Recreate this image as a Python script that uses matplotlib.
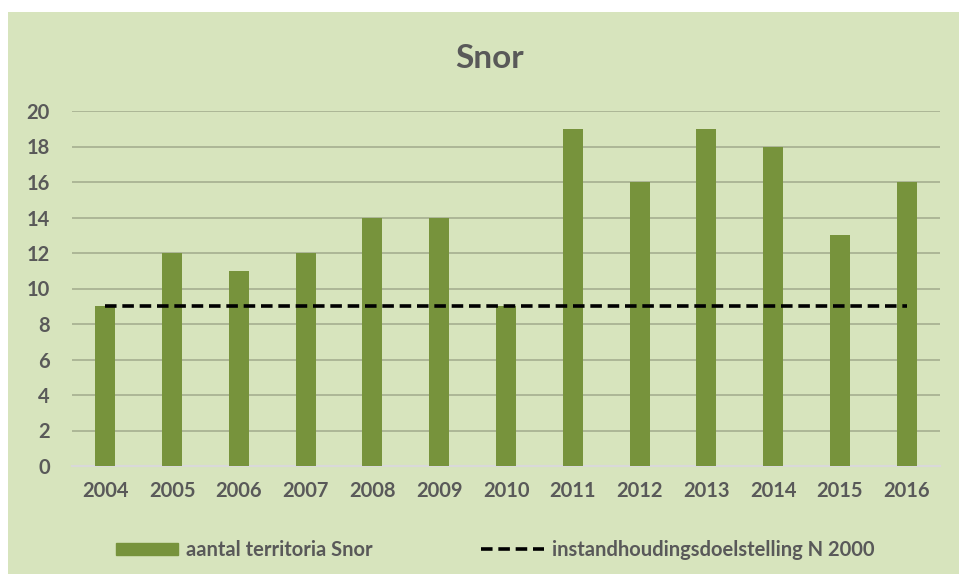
import matplotlib.pyplot as plt
from matplotlib.patches import Rectangle
from matplotlib.lines import Line2D

years = ["2004", "2005", "2006", "2007", "2008", "2009", "2010",
         "2011", "2012", "2013", "2014", "2015", "2016"]
territoria = [9, 12, 11, 12, 14, 14, 9, 19, 16, 19, 18, 13, 16]
doelstelling = [9] * len(years)
yticks = [0, 2, 4, 6, 8, 10, 12, 14, 16, 18, 20]

bg = "#d7e4bd"
bar_color = "#77933c"
text_color = "#595959"
font = ["Lato", "DejaVu Sans"]

W, H = 959, 574
fig = plt.figure(figsize=(W / 100, H / 100), dpi=100, facecolor="white")
fig.patches.append(Rectangle((8 / W, 0), 1 - 8 / W, 1 - 12 / H,
                             transform=fig.transFigure, facecolor=bg,
                             edgecolor="none", zorder=-10))

ax = fig.add_axes([72 / W, 1 - 466 / H, (940 - 72) / W, (466 - 111) / H])
ax.set_facecolor(bg)
x = list(range(len(years)))
ax.bar(x, territoria, width=0.3, color=bar_color, zorder=3,
       label="aantal territoria Snor")
ax.plot(x, doelstelling, color="black", linestyle=(0, (3.2, 1.6)),
        linewidth=2.6, zorder=4, label="instandhoudingsdoelstelling N 2000")

ax.set_xlim(-0.5, len(years) - 0.5)
ax.set_ylim(0, 20)
ax.set_yticks(yticks)
ax.set_xticks(x)
ax.set_xticklabels(years)
ax.grid(axis="y", color="#a9b393", linewidth=1.3, zorder=0)
for s in ["top", "right", "left"]:
    ax.spines[s].set_visible(False)
ax.spines["bottom"].set_color("#d9d9d9")
ax.spines["bottom"].set_linewidth(1.5)
ax.tick_params(axis="both", length=0, labelsize=14.5, labelcolor=text_color)
ax.tick_params(axis="y", pad=16)
ax.tick_params(axis="x", pad=11)
for lab in ax.get_xticklabels() + ax.get_yticklabels():
    lab.set_fontfamily(font)
    lab.set_fontweight("bold")

fig.text(490 / W, 1 - 59 / H, "Snor", ha="center", va="center",
         fontsize=24, fontweight="bold", color=text_color, family=font)

handles = [Rectangle((0, 0), 1, 1, color=bar_color),
           Line2D([0], [0], color="black", linestyle=(0, (3.2, 1.6)), linewidth=2.6)]
leg = fig.legend(handles, ["aantal territoria Snor", "instandhoudingsdoelstelling N 2000"],
                 loc="center", bbox_to_anchor=(495 / W, 1 - 550 / H), ncol=2,
                 frameon=False, prop={"family": font, "size": 14.5, "weight": "bold"},
                 handlelength=3.1, handleheight=0.6, handletextpad=0.4,
                 columnspacing=5.4, labelcolor=text_color)

fig.savefig("out.png", dpi=100, facecolor="white")
